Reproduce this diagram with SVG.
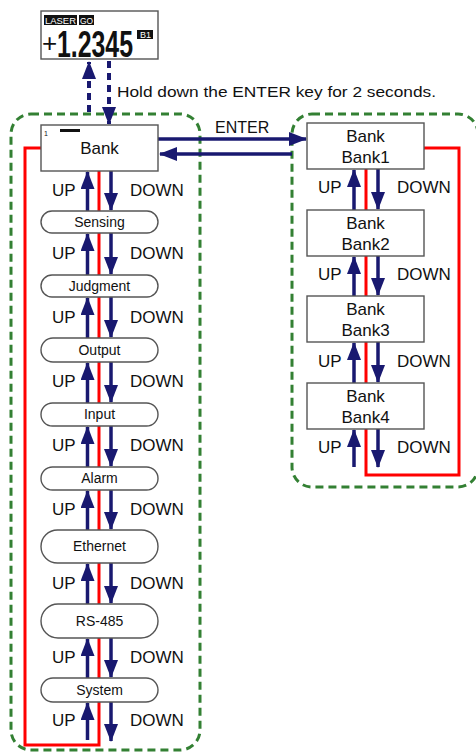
<svg xmlns="http://www.w3.org/2000/svg" width="476" height="753" viewBox="0 0 476 753">
<style>
text{font-family:"Liberation Sans",Arial,sans-serif;fill:#111}
.lbl{font-size:17px}
.pill{font-size:14px}
.box{fill:#fff;stroke:#555;stroke-width:1.4}
.grp{fill:none;stroke:#338033;stroke-width:3;stroke-dasharray:8 5}
.red{fill:none;stroke:#ff0000;stroke-width:3}
.nv{stroke:#191970;stroke-width:3.5;fill:none}
.nvd{stroke:#191970;stroke-width:4;fill:none;stroke-dasharray:7 5}
.inv{fill:#fff;font-size:8.5px}
</style>
<defs>
<marker id="ah" markerUnits="userSpaceOnUse" markerWidth="18" markerHeight="14" refX="17" refY="7" orient="auto">
<path d="M0,0 L18,7 L0,14 z" fill="#191970"/>
</marker>
</defs>

<!-- group boxes -->
<g id="group-left"><rect class="grp" x="11" y="114" width="189" height="636" rx="20"/></g>
<g id="group-right"><rect class="grp" x="292" y="114" width="186" height="373" rx="20"/></g>

<!-- connectors -->
<g id="connectors">
<path class="red" d="M41,148 H25 V745 H99 V171"/>
<path class="red" d="M424,148 H459 V475 H366 V169"/>
<!-- LCD dashed arrows -->
<line class="nvd" x1="89" y1="112" x2="89" y2="62" marker-end="url(#ah)"/>
<line class="nvd" x1="109" y1="61" x2="109" y2="124" marker-end="url(#ah)"/>
<!-- ENTER arrows -->
<line class="nv" x1="158" y1="139" x2="306" y2="139" marker-end="url(#ah)"/>
<line class="nv" x1="292" y1="154" x2="160" y2="154" marker-end="url(#ah)"/>
<!-- left column -->
<g>
<line class="nv" x1="87.5" y1="211" x2="87.5" y2="172" marker-end="url(#ah)"/>
<line class="nv" x1="111" y1="171" x2="111" y2="210" marker-end="url(#ah)"/>
<line class="nv" x1="87.5" y1="275" x2="87.5" y2="234" marker-end="url(#ah)"/>
<line class="nv" x1="111" y1="233" x2="111" y2="274" marker-end="url(#ah)"/>
<line class="nv" x1="87.5" y1="338" x2="87.5" y2="298" marker-end="url(#ah)"/>
<line class="nv" x1="111" y1="297" x2="111" y2="337" marker-end="url(#ah)"/>
<line class="nv" x1="87.5" y1="403" x2="87.5" y2="363" marker-end="url(#ah)"/>
<line class="nv" x1="111" y1="362" x2="111" y2="402" marker-end="url(#ah)"/>
<line class="nv" x1="87.5" y1="467" x2="87.5" y2="427" marker-end="url(#ah)"/>
<line class="nv" x1="111" y1="426" x2="111" y2="466" marker-end="url(#ah)"/>
<line class="nv" x1="87.5" y1="530" x2="87.5" y2="491" marker-end="url(#ah)"/>
<line class="nv" x1="111" y1="490" x2="111" y2="529" marker-end="url(#ah)"/>
<line class="nv" x1="87.5" y1="604" x2="87.5" y2="564" marker-end="url(#ah)"/>
<line class="nv" x1="111" y1="563" x2="111" y2="603" marker-end="url(#ah)"/>
<line class="nv" x1="87.5" y1="678" x2="87.5" y2="639" marker-end="url(#ah)"/>
<line class="nv" x1="111" y1="638" x2="111" y2="677" marker-end="url(#ah)"/>
<line class="nv" x1="87.5" y1="740" x2="87.5" y2="703" marker-end="url(#ah)"/>
<line class="nv" x1="111" y1="702" x2="111" y2="741" marker-end="url(#ah)"/>
</g>
<!-- right column -->
<g>
<line class="nv" x1="354" y1="210" x2="354" y2="170" marker-end="url(#ah)"/>
<line class="nv" x1="378" y1="169" x2="378" y2="209" marker-end="url(#ah)"/>
<line class="nv" x1="354" y1="296" x2="354" y2="257" marker-end="url(#ah)"/>
<line class="nv" x1="378" y1="256" x2="378" y2="295" marker-end="url(#ah)"/>
<line class="nv" x1="354" y1="383" x2="354" y2="343" marker-end="url(#ah)"/>
<line class="nv" x1="378" y1="342" x2="378" y2="382" marker-end="url(#ah)"/>
<line class="nv" x1="354" y1="467" x2="354" y2="430" marker-end="url(#ah)"/>
<line class="nv" x1="378" y1="429" x2="378" y2="467" marker-end="url(#ah)"/>
</g>
<text x="215" y="133" style="font-size:16px">ENTER</text>
<text x="117" y="97" style="font-size:14.5px" textLength="319" lengthAdjust="spacingAndGlyphs">Hold down the ENTER key for 2 seconds.</text>
<g class="lbl">
<text x="52" y="196">UP</text><text x="130" y="196">DOWN</text>
<text x="52" y="259">UP</text><text x="130" y="259">DOWN</text>
<text x="52" y="323">UP</text><text x="130" y="323">DOWN</text>
<text x="52" y="387">UP</text><text x="130" y="387">DOWN</text>
<text x="52" y="451">UP</text><text x="130" y="451">DOWN</text>
<text x="52" y="515">UP</text><text x="130" y="515">DOWN</text>
<text x="52" y="589">UP</text><text x="130" y="589">DOWN</text>
<text x="52" y="663">UP</text><text x="130" y="663">DOWN</text>
<text x="52" y="726">UP</text><text x="130" y="726">DOWN</text>
<text x="318" y="193">UP</text><text x="397" y="193">DOWN</text>
<text x="318" y="280">UP</text><text x="397" y="280">DOWN</text>
<text x="318" y="367">UP</text><text x="397" y="367">DOWN</text>
<text x="318" y="453">UP</text><text x="397" y="453">DOWN</text>
</g>
</g>

<!-- LCD display -->
<g id="lcd">
<rect class="box" x="41" y="11" width="117" height="48"/>
<rect x="44" y="15" width="33" height="10" fill="#111"/>
<text class="inv" x="45" y="23.5" textLength="31" lengthAdjust="spacingAndGlyphs">LASER</text>
<rect x="79" y="15" width="15" height="10" fill="#111"/>
<text class="inv" x="80" y="23.5" textLength="13" lengthAdjust="spacingAndGlyphs">GO</text>
<text x="42" y="52" style="font-size:26px">+</text>
<text x="57" y="57" style="font-size:36px;font-weight:bold" textLength="76" lengthAdjust="spacingAndGlyphs">1.2345</text>
<rect x="137" y="30" width="16" height="9" fill="#111"/>
<text class="inv" x="140" y="38" textLength="11" lengthAdjust="spacingAndGlyphs">B1</text>
</g>

<!-- Left nodes -->
<g id="node-bank">
<rect class="box" x="41" y="125" width="117" height="46"/>
<text x="44" y="136" style="font-size:7px">1</text>
<rect x="60" y="129" width="20" height="3" fill="#111"/>
<text class="lbl" x="99.5" y="154" text-anchor="middle">Bank</text>
</g>
<g id="node-sensing"><rect class="box" x="41" y="211" width="117" height="22" rx="11"/><text class="pill" x="99.5" y="227" text-anchor="middle">Sensing</text></g>
<g id="node-judgment"><rect class="box" x="41" y="275" width="117" height="22" rx="11"/><text class="pill" x="99.5" y="291" text-anchor="middle">Judgment</text></g>
<g id="node-output"><rect class="box" x="41" y="338" width="117" height="24" rx="12"/><text class="pill" x="99.5" y="355" text-anchor="middle">Output</text></g>
<g id="node-input"><rect class="box" x="41" y="403" width="117" height="23" rx="11.5"/><text class="pill" x="99.5" y="419" text-anchor="middle">Input</text></g>
<g id="node-alarm"><rect class="box" x="41" y="467" width="117" height="23" rx="11.5"/><text class="pill" x="99.5" y="483" text-anchor="middle">Alarm</text></g>
<g id="node-ethernet"><rect class="box" x="41" y="530" width="117" height="33" rx="16.5"/><text class="pill" x="99.5" y="551" text-anchor="middle">Ethernet</text></g>
<g id="node-rs485"><rect class="box" x="41" y="604" width="117" height="34" rx="17"/><text class="pill" x="99.5" y="626" text-anchor="middle">RS-485</text></g>
<g id="node-system"><rect class="box" x="41" y="678" width="117" height="24" rx="12"/><text class="pill" x="99.5" y="695" text-anchor="middle">System</text></g>

<!-- Right nodes -->
<g id="node-bank1"><rect class="box" x="307" y="123" width="117" height="46"/><text class="lbl" x="365.5" y="142" text-anchor="middle">Bank</text><text class="lbl" x="365.5" y="163" text-anchor="middle">Bank1</text></g>
<g id="node-bank2"><rect class="box" x="307" y="210" width="117" height="46"/><text class="lbl" x="365.5" y="229" text-anchor="middle">Bank</text><text class="lbl" x="365.5" y="250" text-anchor="middle">Bank2</text></g>
<g id="node-bank3"><rect class="box" x="307" y="296" width="117" height="46"/><text class="lbl" x="365.5" y="315" text-anchor="middle">Bank</text><text class="lbl" x="365.5" y="336" text-anchor="middle">Bank3</text></g>
<g id="node-bank4"><rect class="box" x="307" y="383" width="117" height="46"/><text class="lbl" x="365.5" y="402" text-anchor="middle">Bank</text><text class="lbl" x="365.5" y="423" text-anchor="middle">Bank4</text></g>
</svg>
